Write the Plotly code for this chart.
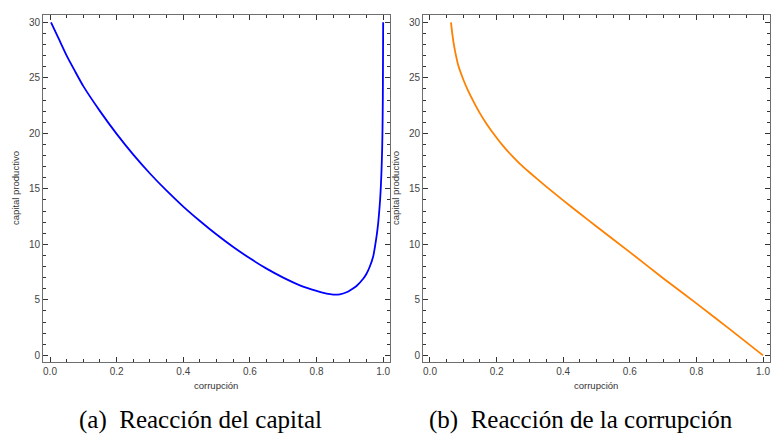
import plotly.graph_objects as go

# ---- data ----
capital_x = [0.003, 0.025, 0.05, 0.075, 0.1, 0.15, 0.2, 0.25, 0.3, 0.35, 0.4, 0.45, 0.5, 0.55,
             0.6, 0.65, 0.7, 0.75, 0.8, 0.83, 0.85, 0.87, 0.89, 0.9, 0.92, 0.94, 0.95, 0.96,
             0.97, 0.976, 0.981, 0.985, 0.988, 0.991, 0.993, 0.995, 0.997, 0.998, 0.999, 1.0]
capital_y = [30.0, 28.6, 27.0, 25.6, 24.25, 22.0, 19.95, 18.08, 16.38, 14.83, 13.4, 12.1, 10.88, 9.76,
             8.74, 7.81, 7.0, 6.31, 5.8, 5.55, 5.47, 5.5, 5.68, 5.85, 6.25, 6.9, 7.35, 8.0,
             8.9, 9.9, 10.9, 11.9, 12.9, 14.1, 15.2, 16.6, 18.6, 20.3, 23.3, 30.0]

corr_x = [0.063, 0.066, 0.07, 0.075, 0.085, 0.1, 0.115, 0.13, 0.15, 0.17, 0.2, 0.22, 0.25, 0.27,
          0.3, 0.35, 0.4, 0.45, 0.5, 0.6, 0.7, 0.8, 0.9, 1.0]
corr_y = [30.0, 29.2, 28.3, 27.45, 26.1, 24.85, 23.8, 22.9, 21.8, 20.85, 19.6, 18.85, 17.85, 17.25,
          16.45, 15.18, 13.96, 12.78, 11.6, 9.3, 6.95, 4.68, 2.36, 0.0]

x_title = "corrupción"
y_title = "capital productivo"
captions = ["(a)  Reacción del capital", "(b)  Reacción de la corrupción"]

W, H = 771, 434
fig = go.Figure()
fig.add_trace(go.Scatter(x=capital_x, y=capital_y, mode="lines",
                         line=dict(color="#0000FF", width=1.8, shape="spline", smoothing=0.5),
                         xaxis="x", yaxis="y", showlegend=False))
fig.add_trace(go.Scatter(x=corr_x, y=corr_y, mode="lines",
                         line=dict(color="#FF8000", width=1.8, shape="spline", smoothing=0.5),
                         xaxis="x2", yaxis="y2", showlegend=False))

tickfont = dict(family="Liberation Sans, Arial, sans-serif", size=10, color="#444444")
framecol = "#6e6e6e"

def xax(domain, rng):
    return dict(domain=domain, range=rng, showgrid=False, zeroline=False,
                showline=True, linecolor=framecol, linewidth=1, mirror="allticks",
                ticks="inside", ticklen=5, tickcolor="#333333", tickwidth=1,
                tick0=0, dtick=0.2, tickformat=".1f", tickfont=tickfont,
                minor=dict(ticks="inside", ticklen=3, dtick=0.05, tick0=0,
                           tickcolor="#333333", showgrid=False))

def yax(domain, rng, anchor):
    return dict(domain=domain, range=rng, anchor=anchor, showgrid=False, zeroline=False,
                showline=True, linecolor=framecol, linewidth=1, mirror="allticks",
                ticks="inside", ticklen=5, tickcolor="#333333", tickwidth=1,
                tick0=0, dtick=5, tickfont=tickfont,
                minor=dict(ticks="inside", ticklen=3, dtick=1, tick0=0,
                           tickcolor="#333333", showgrid=False))

ydom = [1 - 362 / H, 1 - 15 / H]
yr = [-0.6, 30.66]
fig.update_layout(
    width=W, height=H,
    margin=dict(l=0, r=0, t=0, b=0),
    paper_bgcolor="white", plot_bgcolor="white",
    xaxis=xax([43 / W, 389.5 / W], [-0.021, 1.019]) | dict(anchor="y"),
    yaxis=yax(ydom, yr, "x"),
    xaxis2=xax([423 / W, 770 / W], [-0.021, 1.021]) | dict(anchor="y2"),
    yaxis2=yax(ydom, yr, "x2"),
)

annots = []
lab_font = dict(family="Liberation Sans, Arial, sans-serif", size=9.5, color="#333333")
for cx, yx in [(216, 15), (596, 395)]:
    annots.append(dict(text=x_title, x=cx / W, y=1 - 385 / H, xref="paper", yref="paper",
                       showarrow=False, font=lab_font, xanchor="center", yanchor="middle"))
    annots.append(dict(text=y_title, x=yx / W, y=1 - 188 / H, xref="paper", yref="paper",
                       showarrow=False, font=lab_font, textangle=-90,
                       xanchor="center", yanchor="middle"))
cap_font = dict(family="Liberation Serif, Times New Roman, serif", size=25, color="#000000")
for cx, txt in [(200, captions[0]), (581, captions[1])]:
    annots.append(dict(text=txt, x=cx / W, y=1 - 435 / H, xref="paper", yref="paper",
                       showarrow=False, font=cap_font, xanchor="center", yanchor="bottom",
                       borderpad=0))
fig.update_layout(annotations=annots)

fig.write_html("out.html", config={"displayModeBar": False},
               post_script="document.body.style.margin='0px';document.body.style.overflow='hidden';")
